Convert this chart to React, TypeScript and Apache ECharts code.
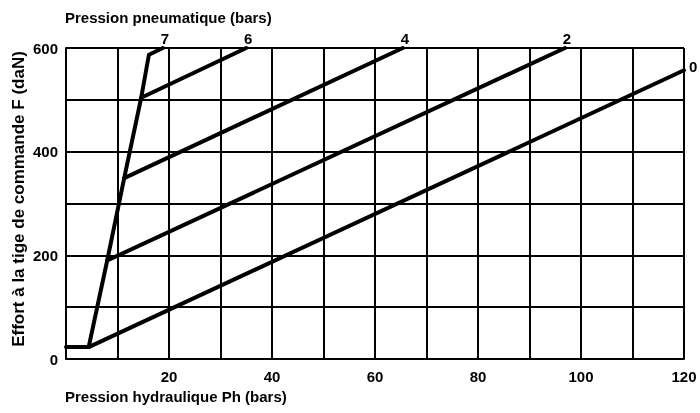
import React, { useEffect, useRef } from "react";
import * as echarts from "echarts";

const pressures = ["0", "2", "4", "6", "7"];
const line0: [number, number][] = [[0, 23], [4.4, 23], [120, 557]];
const line2: [number, number][] = [[8.0, 190], [96.9, 600]];
const line4: [number, number][] = [[11.3, 349], [65.4, 600]];
const line6: [number, number][] = [[14.6, 504], [35.0, 600]];
const line7: [number, number][] = [[4.4, 23], [8.0, 190], [11.3, 349], [14.6, 504], [16.1, 587], [18.8, 600]];
const xTickLabels = [20, 40, 60, 80, 100, 120];
const yTickLabels = [0, 200, 400, 600];

const FONT = "Liberation Sans, Arial, sans-serif";

export default function App() {
  const ref = useRef<HTMLDivElement>(null);
  useEffect(() => {
    if (!ref.current) return;
    const chart = echarts.init(ref.current, null, { renderer: "svg" });
    const lines = [line0, line2, line4, line6, line7];
    const mkSeries = (data: [number, number][], name: string) => ({
      type: "line",
      name,
      data,
      showSymbol: false,
      symbol: "none",
      clip: false,
      lineStyle: { color: "#000", width: 4, cap: "round", join: "round" },
      endLabel: {
        show: true,
        formatter: name,
        distance: 0,
        align: name === "0" ? "left" : "center",
        verticalAlign: name === "0" ? "middle" : "bottom",
        offset: name === "0" ? [5, -4] : [2, -2],
        color: "#000",
        fontSize: 15,
        fontWeight: "bold",
        fontFamily: FONT,
      },
      silent: true,
      z: 3,
    });
    chart.setOption({
      animation: false,
      grid: { left: 66, right: 16, top: 48, bottom: 54 },
      xAxis: {
        type: "value",
        min: 0,
        max: 120,
        interval: 10,
        axisLine: { show: true, lineStyle: { color: "#000", width: 2 } },
        axisTick: { show: false },
        splitLine: { show: true, lineStyle: { color: "#000", width: 2 } },
        axisLabel: {
          color: "#000",
          fontSize: 15,
          fontWeight: "bold",
          fontFamily: FONT,
          margin: 10,
          formatter: (v: number) => (xTickLabels.includes(v) ? String(v) : ""),
        },
      },
      yAxis: {
        type: "value",
        min: 0,
        max: 600,
        interval: 100,
        axisLine: { show: true, lineStyle: { color: "#000", width: 2 } },
        axisTick: { show: false },
        splitLine: { show: true, lineStyle: { color: "#000", width: 2 } },
        axisLabel: {
          color: "#000",
          fontSize: 15,
          fontWeight: "bold",
          fontFamily: FONT,
          margin: 8,
          formatter: (v: number) => (yTickLabels.includes(v) ? String(v) : ""),
        },
      },
      graphic: [
        {
          type: "text",
          left: 65,
          top: 10,
          style: { text: "Pression pneumatique (bars)", fill: "#000", fontSize: 15, fontWeight: "bold", fontFamily: FONT },
        },
        {
          type: "text",
          left: 65,
          top: 389,
          style: { text: "Pression hydraulique Ph (bars)", fill: "#000", fontSize: 15, fontWeight: "bold", fontFamily: FONT },
        },
        {
          type: "text",
          x: 18,
          y: 199,
          rotation: Math.PI / 2,
          style: {
            text: "Effort à la tige de commande F (daN)",
            fill: "#000",
            fontSize: 17,
            fontWeight: "bold",
            fontFamily: FONT,
            textAlign: "center",
            textVerticalAlign: "middle",
          },
        },
      ],
      series: lines.map((l, i) => mkSeries(l, pressures[i])),
    });
    return () => chart.dispose();
  }, []);
  return <div ref={ref} style={{ position: "fixed", left: 0, top: 0, width: 700, height: 413 }} />;
}
